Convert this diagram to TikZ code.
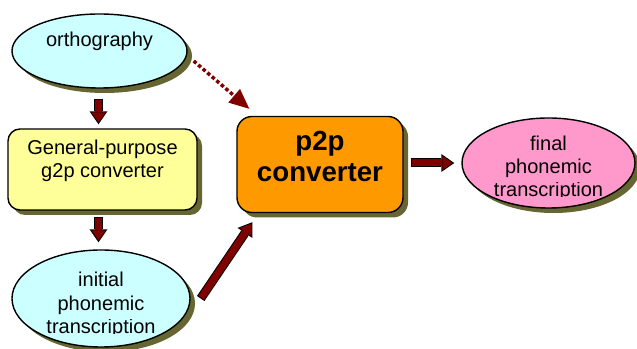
\documentclass[tikz,border=0pt]{standalone}
\usepackage{fontspec}
\setmainfont{Liberation Sans}
\usepackage{trimclip}
\usetikzlibrary{shapes.geometric,arrows.meta,shadows,calc}
\definecolor{ovalcyan}{HTML}{CCFFFF}
\definecolor{boxyellow}{HTML}{FFFF99}
\definecolor{boxorange}{HTML}{FF9900}
\definecolor{ovalpink}{HTML}{FF99CC}
\definecolor{arrowred}{HTML}{800000}
\definecolor{shadowolive}{HTML}{666633}
\begin{document}
\begin{tikzpicture}
% 0.03cm = 1px of the 637x349 page
[x=0.03cm,y=-0.03cm,
 blob/.style={draw=black, line width=1.2pt, align=center, inner sep=0pt,
   font=\fontsize{17.1pt}{20pt}\selectfont,
   drop shadow={shadow xshift=0.15cm, shadow yshift=-0.15cm, fill=shadowolive, opacity=1}},
 oval/.style={blob, ellipse, fill=ovalcyan},
 roundbox/.style={blob, rectangle, rounded corners=0.36cm},
 % 9px shaft, 7px inner
 fatarrow/.style={draw=black, line width=0.27cm, -{Triangle[length=0.39cm,width=0.54cm,line width=0pt]},
   postaction={draw=arrowred, line width=0.21cm, shorten <=0.03cm, shorten >=0.055cm,
     -{Triangle[length=0.30cm,width=0.42cm,line width=0pt]}}},
 dotarrow/.style={draw=arrowred, line width=0.105cm, dash pattern=on 0.105cm off 0.075cm,
   -{Triangle[length=0.6cm,width=0.54cm,line width=0pt]}}]
\useasboundingbox (0,0) rectangle (637,349);
% text height/depth put the last baseline where the reference has it
% (negative inner ysep keeps the ovals at their minimum size)
\node[oval, minimum width=5.25cm, minimum height=2.22cm, text height=0.45cm, text depth=0.72cm]
  (ortho) at (99.5,51) {orthography};
\node[roundbox, fill=boxyellow, minimum width=5.67cm, minimum height=2.43cm, text height=0.64cm, text depth=0.15cm]
  (gp) at (102.5,169.5) {General-purpose\\g2p converter};
\node[oval, minimum width=5.34cm, minimum height=2.91cm, text height=2.26cm, text depth=0.15cm, inner ysep=-0.2cm]
  (init) at (101,298.5) {initial\\phonemic\\\clipbox{0pt {\depth} 0pt 0pt}{transcription}};
\node[roundbox, fill=boxorange, rounded corners=0.45cm, minimum width=4.98cm, minimum height=2.88cm,
  text height=1.18cm, text depth=0.15cm, font=\fontsize{23.6pt}{26.5pt}\selectfont\bfseries]
  (p2p) at (320,164.5) {p2p\\converter};
\node[oval, fill=ovalpink, minimum width=5.19cm, minimum height=2.7cm, text height=2.19cm, text depth=0.15cm, inner ysep=-0.25cm]
  (final) at (548.5,163) {final\\phonemic\\\clipbox{0pt {\depth} 0pt 0pt}{transcription}};
% connectors
\draw[fatarrow] ([shift={(-1,10)}]ortho.south) -- ($(ortho.south |- gp.north)+(-1,-4)$);
\draw[fatarrow] ($(ortho.south |- gp.south)+(-1,6)$) -- ($(ortho.south |- init.north)+(-1,-7)$);
\draw[fatarrow] ([shift={(10,0)}]init.east) -- ([shift={(16,9)}]p2p.south west);
\draw[fatarrow] ($(final.west -| p2p.east)+(7,0)$) -- ([shift={(-7,0)}]final.west);
\draw[dotarrow] ([shift={(6,10)}]ortho.east) -- ([shift={(13,-7)}]p2p.north west);
\end{tikzpicture}
\end{document}
